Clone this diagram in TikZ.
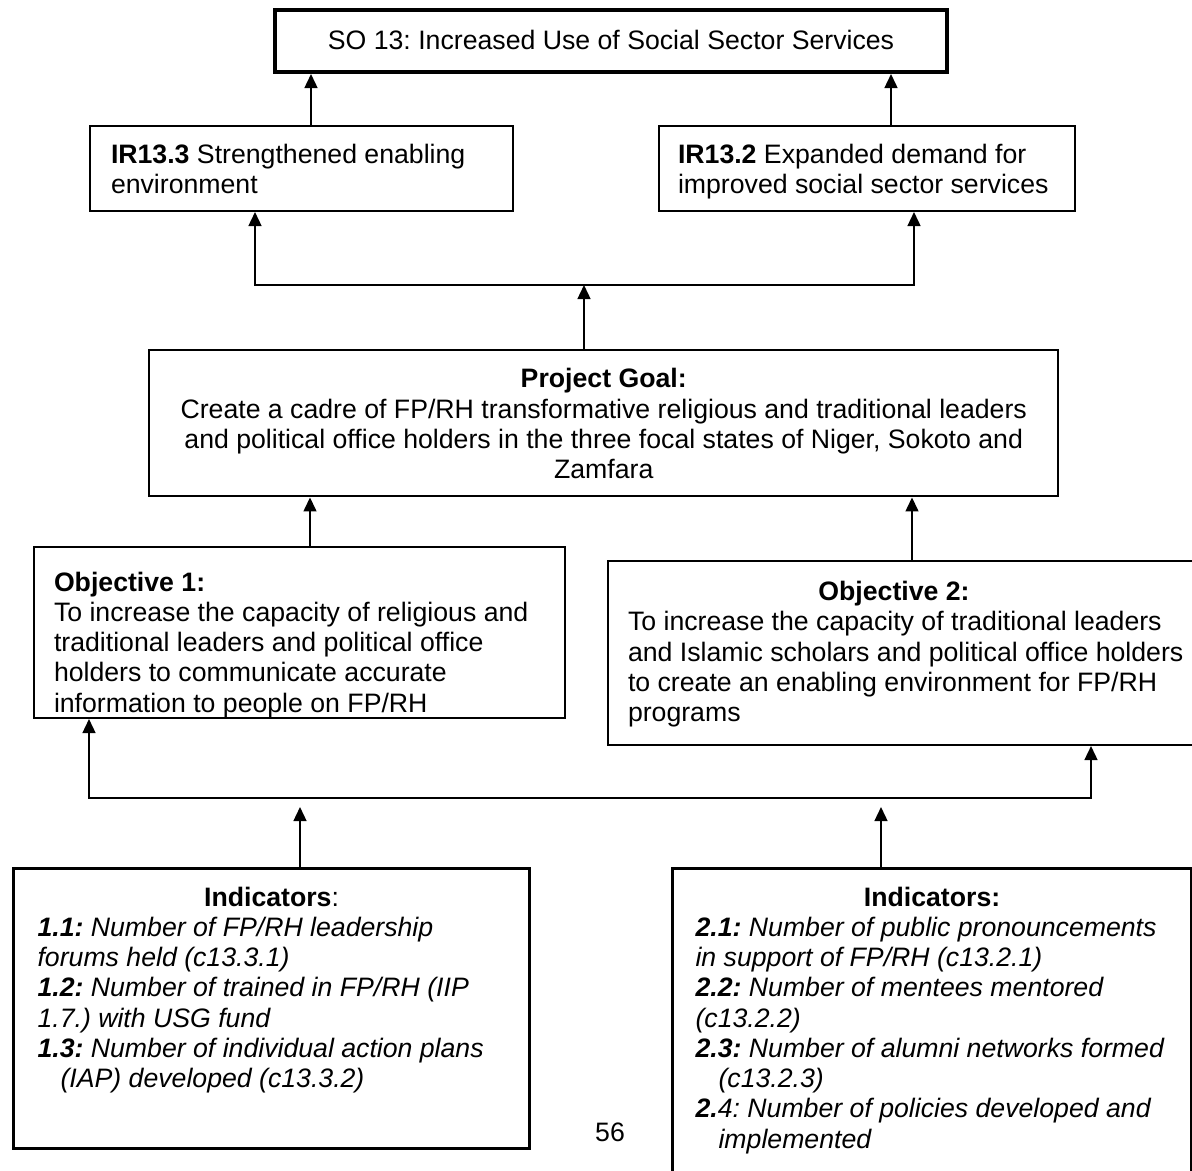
\documentclass[tikz,border=0pt]{standalone}
\usepackage{fontspec}
\setmainfont{Liberation Sans}
\usetikzlibrary{arrows.meta}
\frenchspacing
\newdimen\pxu \pxu=0.45pt
\newcommand{\boxcontent}[4]{\parbox[c][#2\pxu][t]{#1\pxu}{\fontsize{12pt}{13.6pt}\selectfont\frenchspacing\vspace*{#3\pxu}#4}}
\begin{document}
\begin{tikzpicture}[x=0.45pt,y=-0.45pt,
  boxbase/.style={draw, inner sep=0pt, anchor=north west},
  sobox/.style={boxbase, line width=1.8pt},
  thinbox/.style={boxbase, line width=0.9pt},
  goalbox/.style={boxbase, line width=1.1pt},
  indbox/.style={boxbase, line width=1.4pt},
  arr/.style={line width=0.8pt, -{Triangle[width=5.8pt,length=6.3pt]}},
  arrboth/.style={line width=0.8pt, {Triangle[width=5.8pt,length=6.3pt]}-{Triangle[width=5.8pt,length=6.3pt]}}]
\fill[white] (0,0) rectangle (1192,1170);
\useasboundingbox (0,0) rectangle (1192,1170);

\node[sobox] (so) at (273,8) {\boxcontent{672}{62}{18}{\centering\strut SO 13: Increased Use of Social Sector Services\par}};

\node[thinbox] (ir1) at (89,125) {\boxcontent{423}{85}{16.5}{\raggedright\leftskip=21\pxu\strut\textbf{IR13.3} Strengthened enabling\\environment\par}};
\node[thinbox] (ir2) at (658,125) {\boxcontent{416}{85}{16.5}{\raggedright\leftskip=19\pxu\strut\textbf{IR13.2} Expanded demand for\\improved social sector services\par}};

\node[goalbox] (goal) at (148,349) {\boxcontent{909}{146}{16.5}{\centering\strut\textbf{Project Goal:}\\Create a cadre of FP/RH transformative religious and traditional leaders\\and political office holders in the three focal states of Niger, Sokoto and\\Zamfara\par}};

\node[thinbox] (obj1) at (33,546) {\boxcontent{531}{171}{23}{\raggedright\leftskip=20\pxu\strut\textbf{Objective 1:}\\To increase the capacity of religious and\\traditional leaders and political office\\holders to communicate accurate\\information to people on FP/RH\par}};
\node[thinbox] (obj2) at (607,560) {\boxcontent{589}{184}{18.5}{\raggedright\leftskip=20\pxu\strut\makebox[532\pxu]{\textbf{Objective 2:}}\\To increase the capacity of traditional leaders\\and Islamic scholars and political office holders\\to create an enabling environment for FP/RH\\programs\par}};

\node[indbox] (ind1) at (12,867) {\boxcontent{516}{280}{16.5}{{\centering\strut\textbf{Indicators}:\par}\raggedright\leftskip=24\pxu\itshape\textbf{1.1:} Number of FP/RH leadership\\forums held (c13.3.1)\\\textbf{1.2:} Number of trained in FP/RH (IIP\\1.7.) with USG fund\\\textbf{1.3:} Number of individual action plans\\\hspace*{23\pxu}(IAP) developed (c13.3.2)\par}};
\node[indbox] (ind2) at (671,867) {\boxcontent{519}{313}{16.5}{{\centering\strut\textbf{Indicators:}\par}\raggedright\leftskip=23\pxu\itshape\textbf{2.1:} Number of public pronouncements\\in support of FP/RH (c13.2.1)\\\textbf{2.2:} Number of mentees mentored\\(c13.2.2)\\\textbf{2.3:} Number of alumni networks formed\\\hspace*{23\pxu}(c13.2.3)\\\textbf{2.}4: Number of policies developed and\\\hspace*{23\pxu}implemented\par}};

\node[font=\fontsize{12pt}{13.6pt}\selectfont] (page) at (610,1132) {56};

% junction coordinates
\coordinate (a1) at (311,0);
\coordinate (a2) at (891,0);
\coordinate (j1) at (255,285);
\coordinate (j2) at (914,285);
\coordinate (jm) at (584,285);
\coordinate (b1) at (310,0);
\coordinate (b2) at (912,0);
\coordinate (k1) at (89,798);
\coordinate (k2) at (1091,798);
\coordinate (t1) at (300,807);
\coordinate (t2) at (881,807);

\draw[arr] (ir1.north -| a1) -- (so.south -| a1);
\draw[arr] (ir2.north -| a2) -- (so.south -| a2);
\draw[arrboth] (ir1.south -| j1) -- (j1) -- (j2) -- (ir2.south -| j2);
\draw[arr] (goal.north -| jm) -- (jm);
\draw[arr] (obj1.north -| b1) -- (goal.south -| b1);
\draw[arr] (obj2.north -| b2) -- (goal.south -| b2);
\draw[arrboth] (obj1.south -| k1) -- (k1) -- (k2) -- (obj2.south -| k2);
\draw[arr] (ind1.north -| t1) -- (t1);
\draw[arr] (ind2.north -| t2) -- (t2);
\end{tikzpicture}
\end{document}
